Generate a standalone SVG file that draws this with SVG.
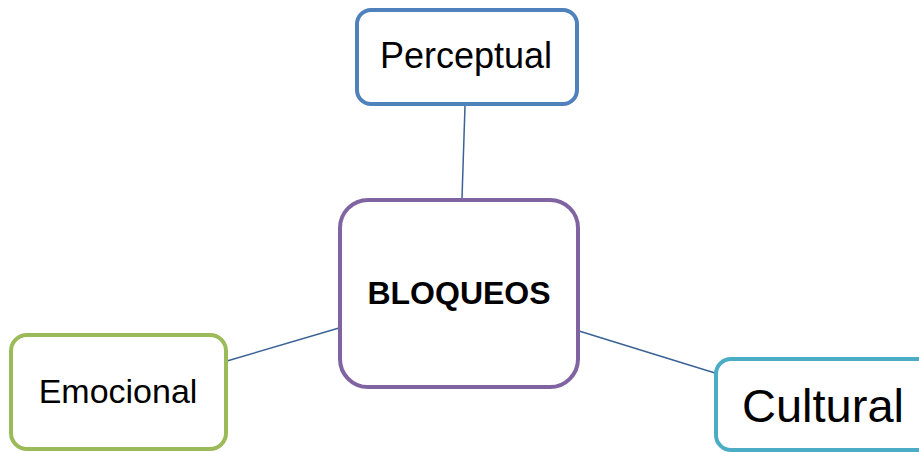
<svg xmlns="http://www.w3.org/2000/svg" width="919" height="452" viewBox="0 0 919 452">
<style>
.box{fill:#fff;stroke-width:4}
.lbl{font-family:"Liberation Sans",Arial,sans-serif;fill:#000;text-anchor:middle}
.con{stroke:#3b6296;stroke-width:1.5;fill:none}
</style>
<rect width="919" height="452" fill="#fff"/>
<g id="connectors">
<line class="con" x1="465" y1="106" x2="462" y2="198"/>
<line class="con" x1="339" y1="328" x2="227" y2="361"/>
<line class="con" x1="579" y1="331" x2="715" y2="373"/>
</g>
<g id="perceptual">
<rect class="box" x="357" y="10" width="220" height="94" rx="14" stroke="#4f81bd"/>
<text class="lbl" x="466" y="68" font-size="36">Perceptual</text>
</g>
<g id="bloqueos">
<rect class="box" x="340" y="200" width="238" height="187" rx="28" stroke="#8064a2"/>
<text class="lbl" x="459" y="304" font-size="32" font-weight="bold">BLOQUEOS</text>
</g>
<g id="emocional">
<rect class="box" x="11" y="335" width="215" height="114" rx="16" stroke="#9bbb59"/>
<text class="lbl" x="118" y="403" font-size="34">Emocional</text>
</g>
<g id="cultural">
<rect class="box" x="716" y="359" width="220" height="91" rx="15" stroke="#4bacc6"/>
<text class="lbl" x="823" y="422" font-size="47">Cultural</text>
</g>
</svg>
